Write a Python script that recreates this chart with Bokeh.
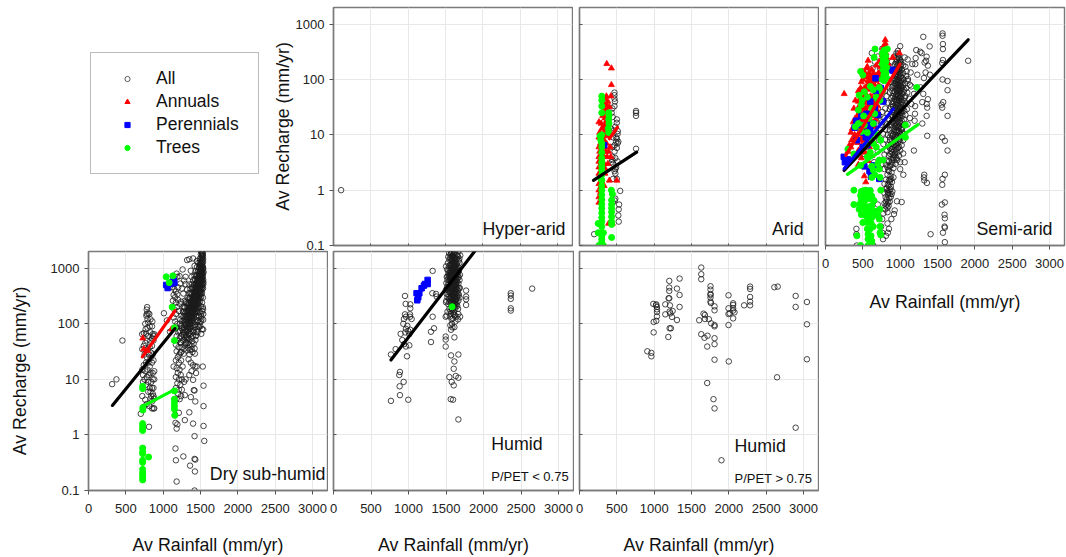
from bokeh.plotting import figure
from bokeh.layouts import row, column
from bokeh.models import Range1d, FixedTicker, Legend, LegendItem, Label
from bokeh.embed import file_html
from bokeh.resources import INLINE

x_ticks = [0, 500, 1000, 1500, 2000, 2500, 3000]
y_ticks = [0.1, 1, 10, 100, 1000]
y_tick_labels = {0.1: "0.1", 1: "1", 10: "10", 100: "100", 1000: "1000"}
x_axis_title = "Av Rainfall (mm/yr)"
y_axis_title = "Av Recharge (mm/yr)"
series_names = ["All", "Annuals", "Perennials", "Trees"]

hyper_all = [(102, 1)]

arid_all = [(468,58),(468,52),(468,45),(475,40),(468,33),(440,30),(757,27),(757,25),(757,22),(444,21),(500,19),(499,16.5),
(480,14),(512,11.7),(510,10.4),(490,9),(500,8.5),(490,7.5),(510,7),(470,6.5),(440,6),(500,5.8),(757,5.6),(440,4),(480,3.8),
(440,3.5),(450,3),(490,2.6),(480,2.4),(470,2.2),(480,2),(450,1.6),(545,0.97),(480,0.7),(470,0.65),(445,0.6),(530,0.55),
(525,0.45),(520,0.35),(525,0.27),(196,0.16),(430,25),(420,13),(460,12),(450,9),(520,7.5),(470,5),(430,3.2),(510,3.3),(500,1.6)]
arid_annuals = [(365,192),(427,160),(427,80),(420,50),(360,50),(340,45),(380,40),(320,38),(360,35),(400,32),(340,30),(370,28),
(350,25),(310,22),(380,21),(340,20),(360,18),(260,17),(290,16),(340,15),(380,15),(320,14),(300,13),(350,12),(390,12),(270,11),
(310,10),(340,10),(370,9.5),(260,9),(300,8),(330,8),(280,7),(320,7),(360,7),(260,6),(300,6),(340,6),(410,6),(270,5),(310,5),
(350,5),(390,5),(260,4),(300,4),(330,4),(370,4),(420,4),(260,3.3),(290,3.2),(330,3),(380,3),(260,2.6),(300,2.5),(340,2.5),
(260,2),(290,2),(340,2),(400,1.5),(500,1.5),(260,1.3),(290,1.2),(330,1.2),(260,1),(280,0.9),(260,0.75),(300,0.7),(260,0.6),
(390,0.25),(440,0.25)]
arid_perennials = [(330,6.5)]
arid_trees = [(298,50),(298,42),(298,33),(298,25),(298,10),(390,25),(395,22),(390,19),(395,16),(385,13),(390,11),(275,9.5),(285,8),
(298,7),(298,6),(298,4.8),(298,3.8),(298,3.2),(298,2.7),(298,2.3),(298,1.9),(290,1.6),(298,1.5),(427,1),(298,1.2),(298,1),
(298,0.82),(298,0.68),(298,0.56),(298,0.47),(440,0.85),(430,0.66),(430,0.55),(430,0.47),(430,0.4),(430,0.33),(430,0.27),(430,0.24),
(298,0.39),(298,0.32),(298,0.27),(250,0.25),(298,0.22),(250,0.17),(290,0.17),(320,0.17),(298,0.15),(298,0.13),(430,0.14),(298,0.115),
(260,0.1),(285,0.1),(300,0.1),(320,0.1)]

semi_all = [(1567,680),(1567,617),(1572,436),(1572,355),(1572,225),(1563,198),(1634,94),(1567,100),(1634,64),(1576,39),(1554,35),(1563,31),
(1634,22),(1563,9),(1598,7.8),(1634,5.2),(1598,1.9),(1567,1.6),(1563,1.25),(1558,0.55),(1598,0.6),(1594,0.36),(1598,0.31),(1594,0.22),
(1598,0.21),(1572,0.17),(1598,0.115),(1407,0.16),(1309,590),(1394,396),(1215,340),(1269,317),(1287,300),(1207,244),(1202,190),(1354,258),
(1345,218),(1327,203),(1371,178),(1340,134),(1398,122),(1140,134),(1162,190),(1086,140),(1104,102),(1229,122),(1318,106),(1273,72),(1309,55),
(1371,44),(1354,36),(1362,31),(1296,39),(1198,24),(1354,22),(1296,16),(1193,18),(1362,9.6),(1184,5.2),(1322,1.9),(1318,1.7),(1322,1.5),(1358,1.35),
(1910,218),(1042,1.9),(957,0.63),(1020,0.61),(926,0.43),(882,0.3),(917,0.37),(414,0.2),(414,0.16),(418,0.1),(1000,400),(970,330),(1060,250),
(1100,230),(950,300),(920,260),(1010,210),(1040,180),(1070,170),(985,170),(930,190),(890,210),(960,150),(1000,140),(1040,130),(1080,115),
(900,150),(940,125),(975,120),(1010,112),(1050,100),(1100,95),(860,120),(910,105),(945,100),(985,95),(1020,88),(1065,85),(1130,80),(830,95),
(875,90),(925,85),(960,82),(995,78),(1030,72),(1080,70),(1150,75),(840,75),(890,72),(935,68),(970,66),(1005,64),(1045,60),(1095,58),(1185,55),
(800,62),(860,58),(910,56),(950,54),(980,52),(1015,50),(1060,47),(1120,45),(820,50),(880,46),(925,44),(960,43),(990,41),(1025,40),(1075,37),
(1150,36),(780,40),(840,38),(895,36),(940,35),(970,34),(1000,32),(1040,30),(1090,29),(1200,33),(800,30),(860,29),(915,28),(955,27),(985,26),
(1020,25),(1070,23),(760,26),(830,24),(885,23),(935,22),(970,21),(1005,20),(1050,19),(1130,20),(790,20),(855,19),(910,18),(950,17.5),(990,16.5),
(1040,15),(1100,15.5),(760,17),(825,15.5),(885,15),(935,14),(975,13.5),(1020,12.5),(800,12.5),(860,12),(915,11.5),(960,11),(1010,10),(1055,10.5),
(770,10.5),(835,10),(895,9.5),(945,9),(990,8.5),(1040,8),(800,8.2),(865,8),(925,7.5),(970,7),(1020,6.5),(775,6.8),(840,6.5),(900,6),(950,5.5),
(1000,5.2),(820,5.2),(875,5),(930,4.6),(985,4.2),(1040,4.6),(790,4.4),(850,4.2),(905,3.8),(960,3.5),(1000,3.2),(830,3.4),(885,3.2),(940,3),
(1060,3.2),(810,2.9),(860,2.7),(910,2.5),(1000,2.4),(790,2.4),(840,2.3),(885,2.1),(830,1.9),(870,1.8),(910,1.7),(810,1.55),(850,1.5),(890,1.4),
(790,1.3),(835,1.25),(875,1.15),(815,1.05),(855,1),(895,0.95),(790,0.88),(835,0.82),(875,0.76),(820,0.68),(860,0.62),(790,0.58),(845,0.52),
(800,0.45),(830,0.4),(775,0.38),(760,0.3),(830,0.25),(850,0.2),(835,0.17),(810,0.15),(770,0.13),(640,0.1),(760,0.17),(745,0.22),(700,0.55),
(700,5),(720,8),(690,11),(740,15),(680,18),(720,22),(700,30),(660,38),(740,48),(670,60),(720,75),(640,90),(690,120),(730,160),(660,210),(700,260),(620,300),
(760,360),(800,230),(840,180),(770,130),(630,160),(600,110),(580,70),(600,45),(570,30),(540,22),(570,14),(530,9),(560,6),(520,4.5),(560,3),(610,2.2),(650,3.2),
(690,2.8),(730,3.5),(760,3),
(972,290),(985,240),(958,230),(1002,225),(945,205),(975,200),(1015,190),(960,175),(990,160),(1020,150),(950,140),(975,138),(1005,128),(935,115),(962,110),(990,108),(1030,105),(920,95),(950,92),(975,88),(1000,86),(1040,78),
(908,78),(938,75),(965,72),(985,70),(1015,68),(1055,65),(895,62),(925,60),(955,62),(975,58),(1000,57),(1030,55),(1070,50),(905,50),(935,48),(965,48),(985,46),(1010,45),(1045,42),(885,40),(915,40),(945,40),(975,38),(1005,36),(1035,35),
(875,32),(905,32),(930,31),(960,30),(990,30),(1015,29),(1055,27),(895,26),(925,25),(945,24),(975,24),(1000,23),(1030,22),(870,22),(905,21),(925,20),(955,20),(985,19),(1020,18),(885,17),(915,16),(940,16),(965,15.5),(995,14.5),(1030,13.5),
(860,15),(895,13),(925,12.5),(950,12),(985,11.5),(1025,11),(875,10.5),(905,10),(935,10),(975,9.5),(860,9),(890,8),(920,8.5),(950,7.8),(1000,7.5),(880,6.8),(915,6.5),(945,6.6),(985,6),(860,5.8),(890,5.5),(920,5.2),(960,4.8),(870,4.5),(900,4.3),(935,4),
(880,3.7),(915,3.5),(850,3.3),(860,1.4),(880,1.6),(845,1.2),(870,1.05),(830,0.95),(885,0.85),(855,0.72),(805,0.75),(840,0.6),(805,0.52),(830,0.48),
(980,270),(965,255),(993,208),(968,185),(1008,170),(982,150),(955,128),(990,125),(968,98),(1012,96),(945,84),(980,80),(1008,76),(962,66),(992,62),(948,53),(970,51),(1002,48),(952,44),(980,42),(1020,38),(962,35),(988,33),(945,31),(972,27),(1010,26),(958,23),(990,22),
(935,20),(968,18),(1002,17),(950,14.5),(980,14),(1010,13),(940,12),(965,11.5),(998,10.5),(925,9),(960,9),(988,8),(905,7),(935,6.2),(970,5.8),(895,4.8),(925,4.3),(950,3.8),(870,2.8),(895,2.9),(830,2.6),(850,2.2),(865,1.55),(820,1.1),(840,0.9),(860,0.85),(810,0.62),(825,0.55)]
semi_annuals = [(800,520),(800,450),(800,400),(790,340),(990,300),(810,300),(780,260),(900,250),(570,220),(720,210),(760,205),(840,190),(550,160),
(680,180),(740,170),(620,150),(500,140),(780,140),(580,130),(700,125),(660,115),(540,110),(740,100),(610,98),(480,90),(570,85),(650,82),(710,78),(520,70),
(600,66),(250,55),(440,62),(760,62),(670,58),(540,55),(480,48),(620,48),(400,42),(570,42),(700,42),(520,38),(650,36),(450,33),(590,32),(380,30),(510,28),(690,28),
(560,25),(430,22),(620,22),(480,19),(540,18),(370,17),(600,16),(420,14),(500,14),(660,14),(560,12),(340,11),(440,10.5),(610,10.5),(500,9.5),(380,8.5),(550,8),(430,7.2),
(650,7.2),(490,6.5),(340,6),(590,6),(440,5.2),(530,4.8),(400,4.2),(620,4.2),(480,3.8),(570,3.4),(440,2.9),(530,2.6),(590,2.3),(520,1.8),(540,1.4),(770,380),(810,350),
(790,220),(640,130),(600,75),(460,58),(530,30),(460,26),(600,35),(420,18),(560,20),(510,11),(470,8),
(450,25),(480,30),(510,45),(540,70),(570,95),(600,120),(630,70),(660,95),(420,16),(450,13),(480,17),(510,20),(540,26),(570,33),(600,50),(630,33),(660,42),(690,60),(720,110),(750,150),(780,200),(760,280),(790,180),(820,250),
(430,9),(460,11),(490,8),(520,13),(550,16),(580,24),(610,18),(640,26),(670,19),(700,33),(730,56),(390,10),(350,8),(320,6.5),(300,5),(360,13),(400,20),(440,40),(470,70),(500,100),(530,130),(560,170),(590,110),(620,90),(650,65),(680,100),(710,130)]
semi_perennials = [(245,4),(260,3.2),(300,3.6),(390,13.5),(410,18),(420,8),(480,22),(510,11),(540,9),(550,24),(560,6.5),(600,40),(600,12),(640,16),(660,30),
(670,105),(680,62),(720,45),(770,40),(880,150),(900,145),(500,6),(650,2.8),(590,2.2),(520,2.7),(610,1.75),(720,1.6),(590,0.97),(620,2.4),(470,15),(570,15),(700,23),(740,70)]
semi_trees = [(663,355),(828,355),(650,251),(760,300),(780,290),(800,280),(770,240),(790,220),(810,210),(760,190),(780,180),(800,170),(820,165),(770,150),(790,140),(810,130),
(780,120),(800,110),(760,100),(820,105),(470,140),(500,120),(1222,72),(720,72),(640,65),(760,60),(680,48),(700,44),(730,42),(480,35),(620,30),(440,28),(660,24),(510,22),(580,20),
(440,16),(520,15),(640,16),(400,14),(480,11.5),(560,11),(700,10),(1070,15),(1070,9),(610,8.5),(740,8),(640,7),(540,6.5),(300,5.5),(380,4.5),(680,6),(600,4.8),(560,4),(720,3.5),(700,3),(770,3.5),
(470,2.8),(620,2.7),(640,2.3),(720,2.4),(660,1.9),(620,1.7),(730,1.7),(380,1),(480,0.95),(510,0.98),(540,1),(600,0.98),(740,1),(470,0.8),(520,0.78),(620,0.78),(480,0.68),(520,0.62),(460,0.56),
(650,0.65),(380,0.55),(450,0.45),(520,0.5),(570,0.5),(620,0.53),(730,0.45),(480,0.36),(530,0.42),(610,0.38),(660,0.42),(700,0.35),(550,0.33),(590,0.3),(630,0.33),(720,0.3),(500,0.26),
(560,0.26),(610,0.26),(640,0.22),(730,0.22),(420,0.15),(560,0.2),(600,0.2),(730,0.17),(740,0.155),(570,0.16),(610,0.15),(570,0.13),(620,0.12),(470,0.1),(570,0.1),(620,0.1),
(520,60),(560,48),(600,75),(450,52),(490,42),(785,340),(805,260),(775,205),(800,150),(785,95),(580,0.9),(590,0.7),(590,0.42),(575,0.36)]

dry_all = [(316,8.2),(374,10),(454,50),(718,65),(740,68),(770,66),(780,150),(800,155),(775,140),(785,200),(780,180),(815,150),(830,120),(855,110),(790,120),(800,105),(760,100),(820,90),
(850,90),(790,85),(765,80),(830,70),(860,65),(870,60),(880,65),(870,50),(850,55),(830,50),(800,60),(780,50),(760,45),(740,40),(720,35),(790,35),(820,38),(850,40),(840,30),(810,28),
(780,25),(750,28),(860,28),(830,24),(800,20),(770,20),(740,18),(720,15),(850,20),(870,22),(820,17),(790,15),(760,14),(730,12),(830,13),(810,12),(860,13),(880,14),(780,11),(750,10),
(800,9),(730,9),(770,8),(840,9),(860,10),(880,10),(820,7),(850,7),(870,7),(800,6),(830,6),(860,5.5),(840,5),(870,5),(880,4.5),(830,4.5),(850,4),(760,4.3),(780,3.6),(740,3.2),(850,3),
(870,3),(880,3),(815,3.3),(700,2.4),(810,1.4),(720,5),(1010,155),(1050,115),(1090,72),(1120,580),(1180,800),(1150,620),(1130,520),(1190,700),(1220,720),(1120,460),(1150,420),(1170,380),
(1200,450),(1230,530),(1140,330),(1160,300),(1190,340),(1130,260),(1170,240),(1200,270),(1150,180),(1185,200),(1220,230),(1140,130),(1170,150),(1210,170),(1160,110),(1190,100),(1230,120),
(1170,85),(1200,70),(1180,60),(1215,75),(1190,50),(1220,55),(1170,42),(1205,38),(1235,45),(1180,32),(1215,28),(1195,25),(1230,30),(1170,22),(1210,20),(1240,22),(1140,17),(1180,16),(1220,15),
(1260,17),(1195,13),(1235,12),(1170,11),(1210,10),(1250,10),(1190,8.5),(1230,8),(1280,9),(1170,7),(1210,6.5),(1250,6.5),(1200,5.5),(1240,5),(1290,5.2),(1180,4.5),(1220,4.4),(1160,2.3),(1210,2.5),
(1165,1.65),(1190,1.55),(1180,1.3),(1165,0.57),(1170,0.35),(1270,0.41),(1180,0.145),(1290,1.85),(1350,2.55),(1370,4.8),(1420,6.3),(1410,6.4),(1430,4),(1540,7.7),(1540,3.3),(1530,17),(1430,17),
(1400,18),(1370,20),(1340,23),(1380,14),(1440,13),(1450,17),(1400,9.8),(1350,12),(1300,10),(1400,1.6),(1420,0.95),(1540,1.45),(1550,0.78),(1420,0.37),(1430,0.36),(1360,0.28),(1425,0.22),(1420,0.1),
(1240,31),(1275,29),(1312,33),(1352,28),(1392,31),(1425,29),(1248,38),(1290,41),(1334,37),(1380,40),(1420,36),(1232,47),(1268,50),(1305,46),(1345,52),(1388,48),(1432,51),(1238,60),(1278,63),(1320,58),
(1360,65),(1400,60),(1445,62),(1228,75),(1262,78),(1298,72),(1336,79),(1372,74),(1408,77),(1448,72),(1520,80),(1535,79),(1242,92),(1284,95),(1322,90),(1356,97),(1392,91),(1428,96),(1462,93),(1498,90),
(1255,112),(1295,108),(1328,116),(1366,110),(1400,114),(1432,108),(1468,115),(1505,110),(1535,118),(1272,135),(1308,140),(1344,132),(1378,138),(1412,142),(1444,134),(1478,140),(1510,136),(1264,168),
(1300,162),(1335,170),(1362,160),(1395,172),(1425,165),(1458,168),(1490,162),(1522,170),(1282,198),(1320,205),(1352,195),(1385,208),(1415,198),(1445,204),(1475,196),(1505,206),(1530,200),(1305,245),
(1340,238),(1372,250),(1402,240),(1432,248),(1462,238),(1492,252),(1520,242),(1325,292),(1360,300),(1392,288),(1420,302),(1450,295),(1480,290),(1508,304),(1532,296),(1345,358),(1378,348),(1408,362),
(1436,350),(1465,360),(1494,346),(1520,358),(1365,425),(1396,438),(1426,420),(1452,432),(1480,440),(1508,424),(1534,436),(1388,520),(1416,505),(1444,515),(1472,498),(1498,522),(1524,510),(1400,610),
(1430,625),(1456,598),(1484,618),(1510,605),(1536,620),(1420,740),(1448,725),(1474,745),(1500,720),(1526,738),(1432,880),(1462,860),(1490,885),(1516,870),(1540,855),(1452,1050),(1480,1030),(1505,1060),
(1530,1040),(1470,1240),(1498,1270),(1522,1230),(1400,1500),(1350,1450),(1320,1400),(1490,1480),(1515,1520),(1535,1460),(1505,1780),(1525,1850),(1510,2000),(1530,1900),(1260,950),(1370,900),(1450,1350),
(1300,700),(1280,600),(1250,430),(1270,350),(1300,520),(1240,250),(1270,200),(1290,260),(1320,410),(1350,510),(1380,700),(1420,1100),(1340,190),(1290,150),(1480,88),(1460,70),(1510,66),
(1462,310),(1488,420),(1502,640),(1471,255),(1439,188),(1411,226),(1395,147),(1378,112),(1356,84),(1336,66),(1318,52),(1301,44),(1286,36),(1340,144),(1366,176),(1392,214),(1418,268),(1444,330),(1470,402),(1494,486),(1516,590),(1530,700),
(1348,98),(1372,128),(1398,160),(1424,196),(1448,242),(1474,298),(1498,372),(1520,456),(1538,560),(1310,76),(1334,104),(1358,134),(1382,170),(1406,208),(1430,258),(1454,318),(1478,384),(1502,470),(1524,540),(1284,58),(1306,82),(1328,118),
(1352,150),(1376,190),(1400,232),(1424,288),(1448,352),(1472,430),(1496,530),(1518,650),(1298,100),(1322,128),(1346,164),(1370,206),(1394,256),(1418,316),(1442,390),(1466,470),(1490,570),(1512,690),(1534,810),(1280,84),(1304,118),(1328,152),
(1352,186),(1376,234),(1400,276),(1424,340),(1448,410),(1472,510),(1496,640),(1520,770),(1272,70),(1296,94),(1320,132),(1344,176),(1368,222),(1392,268),(1416,330),(1440,440),(1464,560),(1488,680),(1512,830),(1536,980),(1260,64),(1288,124),
(1314,172),(1338,218),(1362,276),(1386,338),(1410,420),(1434,530),(1458,650),(1482,790),(1506,940),(1528,1120),(1406,310),(1430,380),(1454,460),(1478,580),(1502,730),(1524,900),(1436,500),(1460,600),(1484,710),(1508,860),(1530,1010),(1474,900),
(1498,1110),(1518,1340),(1484,1000),(1510,1200),(1532,1650),(1500,1400),(1522,1700),(1516,1920),(1446,760),(1420,640),(1388,460),(1362,360),(1340,280),(1316,230),(1292,196),(1268,160),(1246,140),(1228,100),(1250,84),(1275,112),(1300,56),(1326,45),
(1352,42),(1378,56),(1404,70),(1430,88),(1456,112),(1482,134),(1508,152),(1534,184),(1356,34),(1382,35),(1408,44),(1434,60),(1460,80),(1486,106),(1512,122),(1536,150),
(1452,220),(1466,270),(1484,330),(1500,400),(1514,500),(1526,610),(1438,170),(1424,150),(1408,126),(1390,104),(1372,86),(1354,70),(1336,56),(1456,190),(1472,230),(1488,284),(1506,342),(1522,414),(1536,510),(1410,180),(1428,216),(1442,276),(1458,348),
(1474,440),(1492,600),(1506,780),(1522,980),(1386,152),(1404,194),(1420,240),(1436,304),(1452,388),(1468,530),(1484,650),(1500,820),(1516,1060),(1534,1300),(1380,124),(1398,142),(1416,176),(1434,228),(1450,276),(1466,352),(1482,462),(1498,560),(1512,760),
(1362,100),(1382,136),(1400,182),(1416,212),(1432,270),(1448,326),(1464,432),(1480,520),(1494,690),(1510,910),(1344,88),(1364,116),(1384,148),(1404,166),(1420,204),(1436,244),(1452,294),(1468,368),(1484,450),(1498,610),(1326,74),(1346,112),(1366,142),
(1386,182),(1404,246),(1420,296),(1436,360),(1452,480),(1468,600),(1484,760),(1500,960),(1308,62),(1328,86),(1348,126),(1368,158),(1388,202),(1406,262),(1424,320),(1440,410),(1458,540),(1474,680),(1490,830),(1510,1080),(1526,1430),(1490,1130),(1504,1280),(1514,1620),(1528,1750)]
dry_annuals = [(727,55),(740,35),(790,33),(1110,80)]
dry_perennials = [(1040,500),(1060,440),(1080,520),(1100,530),(1120,560),(1140,600),(1150,540)]
dry_trees = [(1040,700),(1080,550),(1130,730),(1120,200),(1150,85),(1150,50),(725,7.5),(725,6.8),(727,3.1),(727,2.8),(1150,6.2),(1150,4.4),(1150,3.8),(1150,3.3),(1150,2.9),(1155,2.25),
(725,1.6),(725,1.45),(725,1.3),(725,1.2),(805,0.4),(725,0.58),(725,0.5),(725,0.46),(725,0.35),(725,0.32),(725,0.24),(725,0.21),(725,0.19),(725,0.17),(725,0.155)]

humid1_all = [(1322,895),(953,317),(962,228),(1024,224),(1024,190),(1020,148),(1020,134),(1042,122),(953,148),(966,134),(939,122),(931,100),(984,92),(1024,78),(997,74),(966,81),(957,70),(895,66),
(1011,65),(917,51),(939,43),(1011,41),(966,39),(980,26),(766,28),(828,35),(886,13.6),(877,12),(935,9),(882,7.5),(886,5.2),(766,4.1),(997,4.3),(1318,355),(1367,345),(1322,134),(1340,83),(1300,72),(1300,47),
(1376,309),(1496,134),(1509,140),(1558,94),(1585,86),(1612,87),(1567,78),(1612,57),(1496,59),(1496,52),(1496,39),(1567,27),(1665,28),(1612,21),(1603,15.5),(1545,11),(1630,11.5),(1665,10.7),(1576,9),(1603,7.8),
(1563,4.4),(1594,4.3),(1665,1.9),(1768,396),(1768,309),(1768,276),(1768,218),(1688,134),(1665,150),(1612,144),(1500,244),(1661,185),(2364,355),(2364,322),(2364,281),(2364,190),(2364,173),(2649,430),
(1500,1080),(1540,1880),(1580,1950),(1620,1960),(1665,1990),(1560,1760),(1600,1800),(1645,1720),(1530,1600),(1575,1620),(1615,1560),(1660,1640),(1690,1700),(1545,1420),(1590,1380),(1630,1450),(1670,1360),
(1525,1240),(1565,1210),(1605,1280),(1645,1190),(1680,1250),(1540,1080),(1580,1040),(1620,1100),(1660,1060),(1515,950),(1555,910),(1595,970),(1635,930),(1672,900),(1530,810),(1570,840),(1610,780),(1650,820),
(1510,700),(1548,720),(1588,680),(1628,730),(1668,690),(1520,620),(1560,600),(1600,640),(1640,590),(1680,610),(1505,540),(1545,520),(1585,560),(1625,510),(1665,530),(1515,460),(1555,480),(1595,450),(1635,470),
(1675,440),(1500,410),(1540,390),(1580,420),(1620,380),(1660,400),(1510,345),(1550,360),(1590,335),(1630,350),(1670,330),(1520,300),(1560,290),(1600,310),(1640,280),(1680,295),(1505,260),(1545,250),(1585,270),
(1625,245),(1665,260),(1530,225),(1570,215),(1610,230),(1650,210),(1545,185),(1585,178),(1625,190),(1520,165),(1565,150),(1605,165),(1640,135),(1590,125),(1555,135),(1625,110),(1660,120),(1580,100),
(1575,1500),(1600,1180),(1565,1000),(1610,880),(1575,750),(1600,570),(1570,440),(1615,300),(1575,380),(1640,660),(1550,680),(1530,530),(1610,1020),(1595,1640),
(1592,1720),(1612,1480),(1582,1340),(1632,1320),(1602,1140),(1572,1130),(1642,1010),(1592,1010),(1622,900),(1582,880),(1552,830),(1642,760),(1612,740),(1592,700),(1562,660),(1622,650),(1582,620),(1652,640),(1602,520),(1632,560),(1572,540),
(1612,460),(1582,470),(1552,430),(1642,420),(1602,380),(1622,400),(1572,360),(1592,330),(1652,300),(1612,320),(1562,310),(1632,280),(1582,280),(1602,260),(1572,240),(1622,230),(1542,280),(1592,210),(1642,240),(1612,190),(1532,340),(1527,440),
(1522,710),(1662,760),(1602,1560),(1572,1420),(1632,1080),(1552,1130),(1562,750),(1592,590),(1612,620),(1632,500),(1572,620),(1542,600),(1652,460),(1582,340),(1602,440),(1622,340),(1648,1500),(1556,1560),(1606,1900),(1568,1880),(1678,1480),
(1660,880),(1686,760),(1664,350),(1684,440),(1530,920),(1540,740),
(1596,1600),(1618,1240),(1586,1220),(1628,1180),(1608,1060),(1576,960),(1616,960),(1656,960),(1598,860),(1636,860),(1590,790),(1626,800),(1566,790),(1604,690),(1640,710),(1576,690),(1596,630),(1620,590),(1648,570),(1566,570),(1594,500),(1616,520),
(1580,440),(1604,490),(1634,440),(1556,380),(1590,390),(1614,360),(1644,360),(1574,300),(1598,290),(1622,300),(1644,320),(1560,260),(1590,240),(1616,260),(1636,220),(1578,190),(1600,215),(1560,170),(1598,150),(1616,140),(1576,120)]
humid1_perennials = [(1117,265),(1108,355),(1144,355),(1130,300),(1175,436),(1220,520),(1255,616),(1255,520),(1206,487)]
humid1_trees = [(1581,203)]

humid2_all = [(908,32),(962,30),(962,26),(988,228),(993,108),(993,70),(1024,215),(1028,224),(1037,201),(1037,182),(1028,113),(1037,136),(1037,163),(1149,224),(1149,148),(1189,58),(1193,288),(1202,288),(1202,591),
(1202,449),(1202,390),(1211,215),(1207,166),(1216,154),(1238,133),(1247,170),(1207,83),(1224,83),(1305,117),(1305,430),(1340,651),(1340,330),(1340,201),(1603,116),(1630,1028),(1630,780),(1630,634),(1630,65),(1661,152),
(1679,144),(1679,122),(1674,56),(1714,61),(1710,39),(1710,8.6),(1754,474),(1754,412),(1754,345),(1754,330),(1754,296),(1754,251),(1759,237),(1732,121),(1763,102),(1808,206),(1808,175),(1808,95),(1808,90),(1808,55),(1808,43),
(1808,22.6),(1794,4.4),(1808,3),(1901,0.35),(1995,326),(1995,190),(1995,150),(1995,95),(1999,21),(2057,234),(2057,218),(2057,190),(2057,173),(2075,161),(2057,125),(2012,154),(2204,215),(2284,467),(2284,424),(2284,304),(2284,251),
(2284,215),(2609,455),(2654,467),(2645,10.9),(2894,317),(2894,201),(2894,1.35),(3045,247),(3045,98),(3045,23)]

dry_fit_black = [(320, 1158), (3.4, 82)]
dry_fit_red = [(721, 1158), (25.4, 172)]
dry_fit_green = [(712, 1158), (3.2, 6.6)]
arid_fit_black = [(187, 766), (1.5, 4.87)]
arid_fit_red = [(400, 508), (8.5, 13.7)]
arid_fit_green = [(390, 400), (10.4, 20.8)]
semi_fit_black = [(249, 1910), (2.27, 522)]
semi_fit_red = [(272, 997), (4.25, 190)]
semi_fit_blue = [(249, 908), (2.44, 29.4)]
semi_fit_green = [(294, 1238), (1.93, 15.3)]
humid1_fit_black = [(766, 1880), (22.3, 2000)]
humid1_fit_blue = [(1117, 1264), (309, 616)]

FONT = "Liberation Sans"
AX = "#7a7a7a"
GRID = "#e8e8e8"
BLACK, RED, BLUE, GREEN = "#1a1a1a", "#ff0000", "#0000ff", "#00ff00"


def panel(left, frame_w, right, frame_h, top, bottom, xlabels, ylabels, xtitle=False, ytitle=False, yst=4, xst=19):
    p = figure(width=left + frame_w + right, height=top + frame_h + bottom,
               x_range=Range1d(0, 3200), y_range=Range1d(0.1, 2000), y_axis_type="log",
               output_backend="svg", toolbar_location=None,
               min_border_left=left, min_border_right=right, min_border_top=top, min_border_bottom=bottom)
    p.outline_line_color = AX
    p.outline_line_width = 1.4
    p.background_fill_color = "white"
    p.border_fill_alpha = 0
    p.xgrid.grid_line_color = GRID
    p.ygrid.grid_line_color = GRID
    p.xaxis.ticker = FixedTicker(ticks=x_ticks)
    p.yaxis.ticker = FixedTicker(ticks=y_ticks)
    p.yaxis.minor_tick_line_color = None
    p.xaxis.minor_tick_line_color = None
    for ax in (p.xaxis[0], p.yaxis[0]):
        ax.axis_line_color = AX
        ax.axis_line_width = 1.4
        ax.major_tick_line_color = "#555555"
        ax.major_label_text_font = FONT
        ax.major_label_text_font_size = "13px"
        ax.major_label_text_color = "#222222"
        ax.axis_label_text_font = FONT
        ax.axis_label_text_font_size = "17.8px"
        ax.axis_label_text_font_style = "normal"
        ax.axis_label_text_color = "#111111"
    if xlabels:
        p.xaxis.major_tick_in = 0
        p.xaxis.major_tick_out = 4
        p.xaxis.major_label_standoff = 9
    else:
        p.xaxis.major_tick_in = 2
        p.xaxis.major_tick_out = 0
        p.xaxis.major_label_overrides = {t: "" for t in x_ticks}
        p.xaxis.major_label_standoff = 0
    if ylabels:
        p.yaxis.major_tick_in = 0
        p.yaxis.major_tick_out = 4
        p.yaxis.major_label_standoff = 5
        p.yaxis.major_label_overrides = y_tick_labels
    else:
        p.yaxis.major_tick_in = 3
        p.yaxis.major_tick_out = 0
        p.yaxis.major_label_overrides = {t: "" for t in y_ticks}
        p.yaxis.major_label_standoff = 0
    if xtitle:
        p.xaxis.axis_label = x_axis_title
        p.xaxis.axis_label_standoff = xst
    if ytitle:
        p.yaxis.axis_label = y_axis_title
        p.yaxis.axis_label_standoff = yst
    return p


def pts(p, data, kind):
    xs = [d[0] for d in data]
    ys = [d[1] for d in data]
    if kind == "all":
        return p.scatter(xs, ys, marker="circle", size=5.5, fill_color=None, line_color=BLACK, line_width=0.8)
    if kind == "annuals":
        return p.scatter(xs, ys, marker="triangle", size=6, fill_color=RED, line_color=RED, line_width=0.8)
    if kind == "perennials":
        return p.scatter(xs, ys, marker="square", size=5.5, fill_color=BLUE, line_color=BLUE)
    return p.scatter(xs, ys, marker="circle", size=6, fill_color=GREEN, line_color=GREEN)


def fit(p, f, color):
    p.line(f[0], f[1], line_color=color, line_width=3.2, line_cap="round")


def note(p, x, y, text, size="17.8px", align="right"):
    p.add_layout(Label(x=x, y=y, text=text, text_font=FONT, text_font_size=size, text_color="#111111",
                       text_align=align, text_baseline="middle"))


# legend box as a figure of its own
key = figure(width=260, height=252, x_range=Range1d(0, 1), y_range=Range1d(0, 1),
             x_axis_location=None, y_axis_location=None, output_backend="svg", toolbar_location=None,
             min_border_left=0, min_border_right=0, min_border_top=0, min_border_bottom=0)
key.outline_line_color = None
key.xgrid.visible = False
key.ygrid.visible = False
k0 = key.scatter([2], [2], marker="circle", size=5, fill_color=None, line_color="#333333", line_width=0.8)
k1 = key.scatter([2], [2], marker="triangle", size=6, fill_color=RED, line_color=RED)
k2 = key.scatter([2], [2], marker="square", size=5, fill_color=BLUE, line_color=BLUE)
k3 = key.scatter([2], [2], marker="circle", size=5, fill_color=GREEN, line_color=GREEN)
legend = Legend(items=[LegendItem(label=n, renderers=[r]) for n, r in zip(series_names, [k0, k1, k2, k3])],
                location=(90, 71), orientation="vertical", padding=15, margin=0, spacing=2,
                glyph_width=42, glyph_height=13, label_height=13, label_width=87, label_standoff=8,
                label_text_font=FONT, label_text_font_size="17.5px", label_text_color="#111111",
                border_line_color=AX, border_line_width=1.4, background_fill_color="white", background_fill_alpha=1)
key.add_layout(legend)

# top row
hyper = panel(73, 239, 1, 238, 7, 7, False, True, ytitle=True, yst=0)
pts(hyper, hyper_all, "all")
note(hyper, 3106, 0.2, "Hyper-arid")

arid = panel(6, 239, 1, 238, 7, 7, False, False)
pts(arid, arid_all, "all")
pts(arid, arid_annuals, "annuals")
pts(arid, arid_perennials, "perennials")
pts(arid, arid_trees, "trees")
fit(arid, arid_fit_black, "#000000")
fit(arid, arid_fit_red, RED)
fit(arid, arid_fit_green, GREEN)
note(arid, 3000, 0.2, "Arid")

semi = panel(6, 239, 2, 238, 7, 312, True, False, xtitle=True, xst=21)
pts(semi, semi_all, "all")
pts(semi, semi_annuals, "annuals")
pts(semi, semi_perennials, "perennials")
pts(semi, semi_trees, "trees")
fit(semi, semi_fit_black, "#000000")
fit(semi, semi_fit_red, RED)
fit(semi, semi_fit_blue, BLUE)
fit(semi, semi_fit_green, GREEN)
note(semi, 3039, 0.2, "Semi-arid")

# bottom row
dry = panel(88, 239, 1, 239, 1, 67, True, True, xtitle=True, ytitle=True, yst=18)
pts(dry, dry_all, "all")
pts(dry, dry_annuals, "annuals")
pts(dry, dry_perennials, "perennials")
pts(dry, dry_trees, "trees")
fit(dry, dry_fit_black, "#000000")
fit(dry, dry_fit_red, RED)
fit(dry, dry_fit_green, GREEN)
note(dry, 3173, 0.2, "Dry sub-humid")

humid1 = panel(5, 240, 1, 239, 1, 67, True, False, xtitle=True)
pts(humid1, humid1_all, "all")
pts(humid1, humid1_perennials, "perennials")
pts(humid1, humid1_trees, "trees")
fit(humid1, humid1_fit_black, "#000000")
fit(humid1, humid1_fit_blue, BLUE)
note(humid1, 2103, 0.68, "Humid", align="left")
note(humid1, 2103, 0.179, "P/PET < 0.75", size="13px", align="left")

humid2 = panel(5, 239, 1, 239, 1, 67, True, False, xtitle=True)
pts(humid2, humid2_all, "all")
note(humid2, 2075, 0.62, "Humid", align="left")
note(humid2, 2075, 0.165, "P/PET > 0.75", size="13px", align="left")

top_row = row(key, hyper, arid, spacing=0)
bottom_row = row(dry, humid1, humid2, spacing=0, margin=(-2, 0, 0, 0))
left_col = column(top_row, bottom_row, spacing=0)
page = row(left_col, semi, spacing=0)

open("out.html", "w").write(file_html(page, INLINE))
